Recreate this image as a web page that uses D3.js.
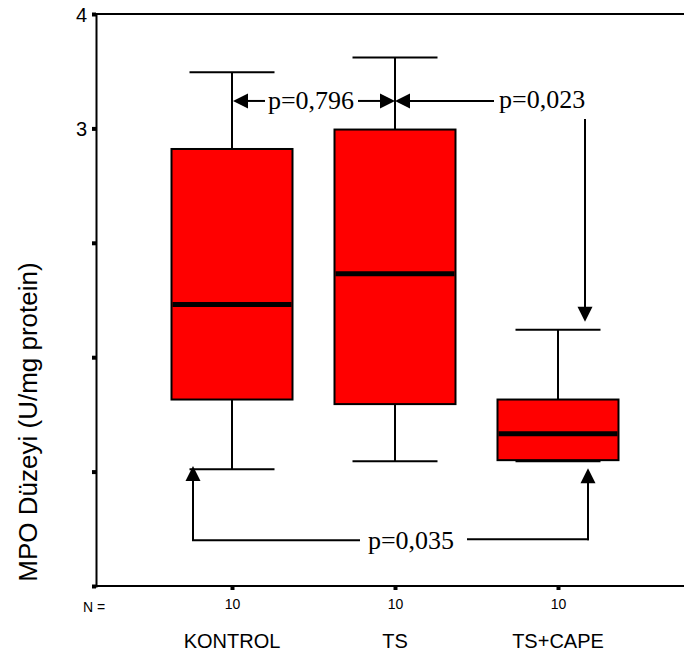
<!DOCTYPE html>
<html><head><meta charset="utf-8">
<script src="https://cdn.jsdelivr.net/npm/d3@7"></script>
<style>body{margin:0;background:#fff}svg{display:block}</style>
</head><body>
<script>
// ---- data ----
const categories = ["KONTROL", "TS", "TS+CAPE"];
const nLabels = ["10", "10", "10"];
const whiskerHigh = [3.49, 3.62, 1.24];
const q3 = [2.82, 2.99, 0.63];
const median = [1.46, 1.73, 0.33];
const q1 = [0.63, 0.59, 0.10];
const whiskerLow = [0.02, 0.09, 0.09];
const yTicks = [-1, 0, 1, 2, 3, 4];
const yTickLabels = ["", "", "", "", "3", "4"];
const yLabel = "MPO Düzeyi (U/mg protein)";
const pTexts = ["p=0,796", "p=0,023", "p=0,035"];

const W = 684, H = 654;
const svg = d3.select("body").append("svg").attr("width", W).attr("height", H);

const y = d3.scaleLinear().domain([-1, 4]).range([586, 14]);
const x = d3.scalePoint().domain(categories).range([232, 558]);
const boxW = 121, capW = 85;

// frame
svg.append("line").attr("x1", 96).attr("x2", W).attr("y1", 14).attr("y2", 14)
  .attr("stroke", "#000").attr("stroke-width", 2);
svg.append("line").attr("x1", 96).attr("x2", W).attr("y1", 586).attr("y2", 586)
  .attr("stroke", "#000").attr("stroke-width", 2);

// y axis
const yAxis = d3.axisLeft(y).tickValues(yTicks).tickSize(4)
  .tickFormat((d, i) => yTickLabels[i]);
const gy = svg.append("g").attr("transform", "translate(96,0)").call(yAxis);
gy.select(".domain").attr("stroke", "#000").attr("stroke-width", 2);
gy.selectAll(".tick line").attr("stroke", "#000").attr("stroke-width", 4);
gy.selectAll(".tick text").attr("font-family", "Liberation Sans, Arial, sans-serif")
  .attr("font-size", 20).attr("fill", "#000").attr("x", -9).attr("dy", "0.36em");

// x axis
const xAxis = d3.axisBottom(x).tickSize(4).tickFormat((d, i) => nLabels[i]);
const gx = svg.append("g").attr("transform", "translate(0,586)").call(xAxis);
gx.select(".domain").remove();
gx.selectAll(".tick line").attr("stroke", "#000").attr("stroke-width", 4);
gx.selectAll(".tick text").attr("font-family", "Liberation Sans, Arial, sans-serif")
  .attr("font-size", 14).attr("fill", "#000").attr("y", 13);

svg.append("text").attr("x", 83).attr("y", 612).attr("font-family", "Liberation Sans, Arial, sans-serif")
  .attr("font-size", 14).text("N =");

svg.selectAll(".cat").data(categories).enter().append("text")
  .attr("x", d => x(d)).attr("y", 648).attr("text-anchor", "middle")
  .attr("font-family", "Liberation Sans, Arial, sans-serif").attr("font-size", 20)
  .text(d => d);

svg.append("text").attr("transform", "translate(37,422) rotate(-90)")
  .attr("text-anchor", "middle").attr("font-family", "Liberation Sans, Arial, sans-serif")
  .attr("font-size", 26).text(yLabel);

// boxes
const g = svg.selectAll(".box").data(categories).enter().append("g");
g.append("line").attr("x1", d => x(d)).attr("x2", d => x(d))
  .attr("y1", (d, i) => y(whiskerHigh[i])).attr("y2", (d, i) => y(q3[i]))
  .attr("stroke", "#000").attr("stroke-width", 2);
g.append("line").attr("x1", d => x(d)).attr("x2", d => x(d))
  .attr("y1", (d, i) => y(q1[i])).attr("y2", (d, i) => y(whiskerLow[i]))
  .attr("stroke", "#000").attr("stroke-width", 2);
g.append("line").attr("x1", d => x(d) - capW / 2).attr("x2", d => x(d) + capW / 2)
  .attr("y1", (d, i) => y(whiskerHigh[i])).attr("y2", (d, i) => y(whiskerHigh[i]))
  .attr("stroke", "#000").attr("stroke-width", 2);
g.append("line").attr("x1", d => x(d) - capW / 2).attr("x2", d => x(d) + capW / 2)
  .attr("y1", (d, i) => y(whiskerLow[i])).attr("y2", (d, i) => y(whiskerLow[i]))
  .attr("stroke", "#000").attr("stroke-width", 2);
g.append("rect").attr("x", d => x(d) - boxW / 2).attr("width", boxW)
  .attr("y", (d, i) => y(q3[i])).attr("height", (d, i) => y(q1[i]) - y(q3[i]))
  .attr("fill", "#ff0000").attr("stroke", "#000").attr("stroke-width", 2);
g.append("line").attr("x1", d => x(d) - boxW / 2 + 1).attr("x2", d => x(d) + boxW / 2 - 1)
  .attr("y1", (d, i) => y(median[i])).attr("y2", (d, i) => y(median[i]))
  .attr("stroke", "#000").attr("stroke-width", 5);

// annotations
const ann = svg.append("g");
const serif = "Liberation Serif, Times New Roman, serif";
function arrowHead(px, py, dir) {
  const L = 15, hw = 7.5;
  let pts;
  if (dir === "left") pts = [[px, py], [px + L, py - hw], [px + L, py + hw]];
  if (dir === "right") pts = [[px, py], [px - L, py - hw], [px - L, py + hw]];
  if (dir === "up") pts = [[px, py], [px - hw, py + L], [px + hw, py + L]];
  if (dir === "down") pts = [[px, py], [px - hw, py - L], [px + hw, py - L]];
  ann.append("polygon").attr("points", pts.map(p => p.join(",")).join(" ")).attr("fill", "#000");
}
function seg(x1, y1, x2, y2) {
  ann.append("line").attr("x1", x1).attr("y1", y1).attr("x2", x2).attr("y2", y2)
    .attr("stroke", "#000").attr("stroke-width", 2);
}
const aY = y(3.24);
const xK = x("KONTROL"), xT = x("TS"), xC = x("TS+CAPE");
// p=0,796
arrowHead(xK + 1, aY, "left"); seg(xK + 14, aY, 265, aY);
ann.append("text").attr("x", 311).attr("y", aY + 8).attr("text-anchor", "middle")
  .attr("font-family", serif).attr("font-size", 26).text(pTexts[0]);
seg(358, aY, xT - 12, aY); arrowHead(xT, aY, "right");
// p=0,023
arrowHead(xT, aY, "left"); seg(xT + 12, aY, 494, aY);
ann.append("text").attr("x", 499).attr("y", aY + 7).attr("font-family", serif)
  .attr("font-size", 26).text(pTexts[1]);
seg(xC + 27, 119, xC + 27, y(1.31) - 12); arrowHead(xC + 27, y(1.31), "down");
// p=0,035
const bY = y(-0.6);
arrowHead(xK - 39, y(0.05), "up");
seg(xK - 39, y(0.05) + 12, xK - 39, bY); seg(xK - 40, bY, 360, bY);
ann.append("text").attr("x", 411).attr("y", bY + 9).attr("text-anchor", "middle")
  .attr("font-family", serif).attr("font-size", 26).text(pTexts[2]);
seg(467, bY - 1, xC + 31, bY - 1); seg(xC + 30, bY, xC + 30, y(0.03) + 12);
arrowHead(xC + 30, y(0.03), "up");
</script>
</body></html>
